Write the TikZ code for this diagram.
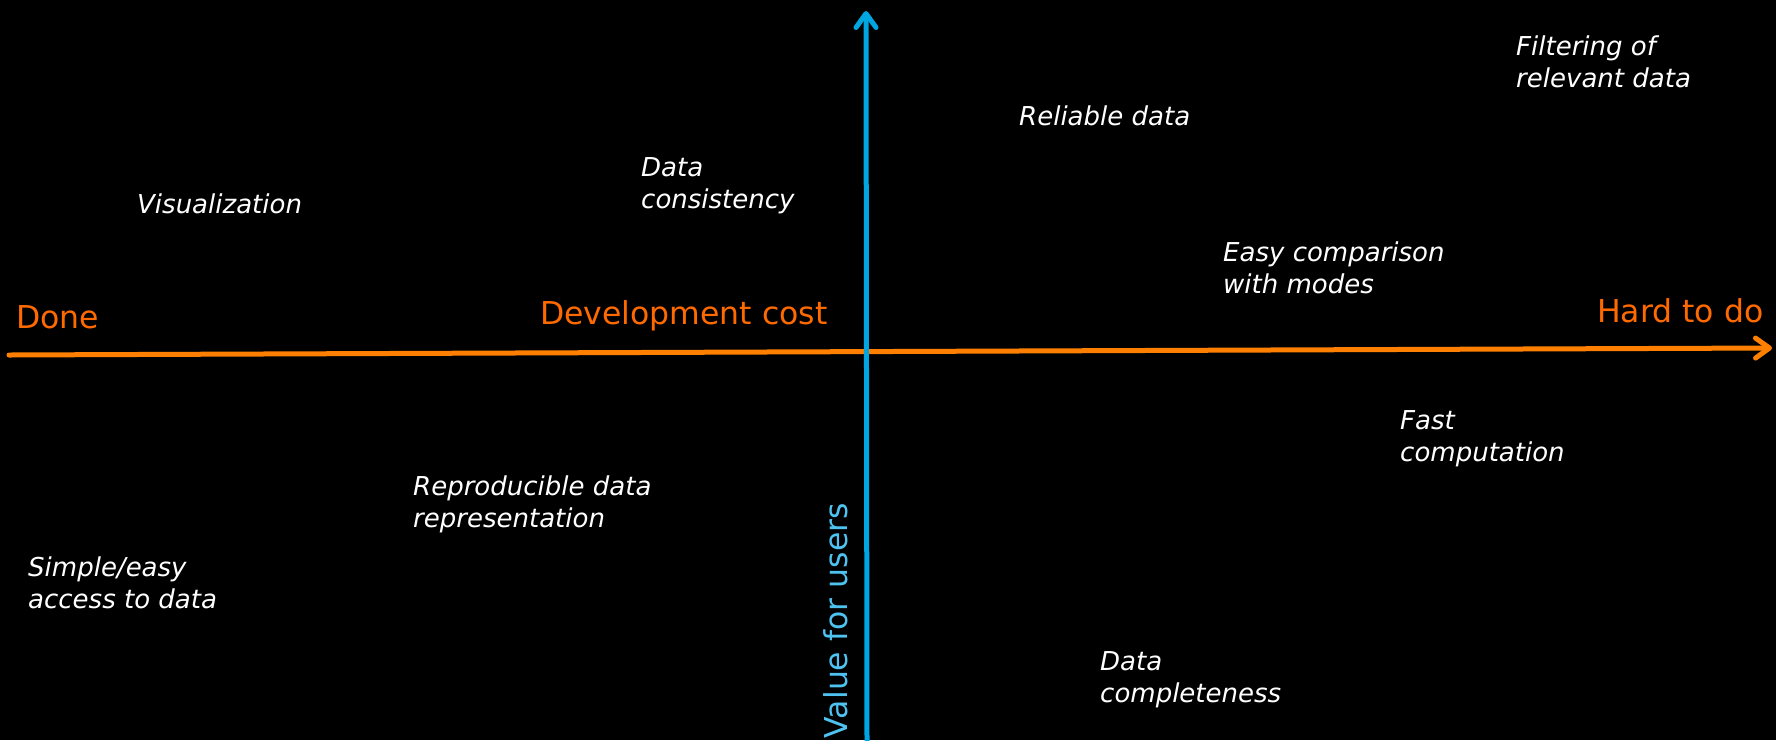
\documentclass[tikz,border=0pt]{standalone}
\usepackage{fontspec}
\setmainfont{DejaVu Sans}
\usetikzlibrary{positioning,arrows.meta}
\definecolor{axisorange}{RGB}{255,128,0}
\definecolor{textorange}{RGB}{255,106,0}
\definecolor{axisblue}{RGB}{0,166,226}
\definecolor{textblue}{RGB}{78,194,240}
\tikzset{
  item/.style={anchor=north west, inner sep=0pt, align=left, text=white,
    font=\fontsize{26}{32}\selectfont\itshape},
  axislabel/.style={anchor=north west, inner sep=0pt, text=textorange,
    font=\fontsize{31.5}{38}\selectfont},
  axis/.style={line width=5pt, line cap=round,
    -{Straight Barb[length=14pt,width=20pt,round]}}
}

\begin{document}
\begin{tikzpicture}[x=1pt,y=-1pt]
  \fill[black] (0,0) rectangle (1776,740);
  \useasboundingbox (0,0) rectangle (1776,740);
  \coordinate (left) at (9,355);
  \coordinate (right) at (1772,348);
  \coordinate (bottom) at (867,745);
  \coordinate (top) at (866,11);
  \node[axislabel] (done) at (16,305) {Done};
  \node[axislabel] (devcost) at (540,300) {Development cost};
  \node[axislabel] (hard) at (1597,298) {Hard to do};
  \node[anchor=east, inner sep=0pt, rotate=90, text=textblue,
    font=\fontsize{31.5}{38}\selectfont] (value) at (836,503) {Value for users};
  \node[item] (vis) at (137,194) {Visualization};
  \node[item] (consist) at (641,157) {Data\\consistency};
  \node[item] (reliable) at (1019,106) {Reliable data};
  \node[item] (filter) at (1516,36) {Filtering of\\relevant data};
  \node[item] (compare) at (1223,242) {Easy comparison\\with modes};
  \node[item] (fast) at (1400,410) {Fast\\computation};
  \node[item] (repro) at (413,476) {Reproducible data\\representation};
  \node[item] (access) at (28,557) {Simple/easy\\access to data};
  \node[item] (complete) at (1100,651) {Data\\completeness};
  \draw[axis, axisorange] (left) -- (right);
  \draw[axis, axisblue] (bottom) -- (top);
\end{tikzpicture}
\end{document}
